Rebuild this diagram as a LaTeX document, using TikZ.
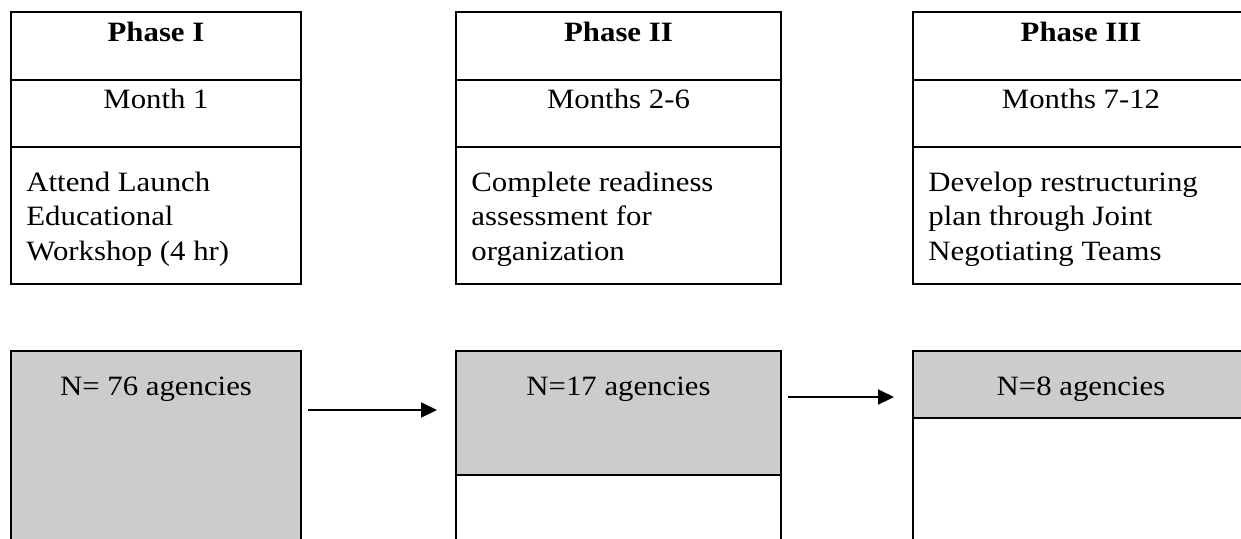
\documentclass[tikz,border=0pt]{standalone}
\usepackage{fontspec}
\setmainfont{Liberation Serif}[FakeStretch=1.1]
\usetikzlibrary{positioning,arrows.meta}
\definecolor{cellgray}{HTML}{CCCCCC}
\newcommand{\pxu}{0.5pt}
\tikzset{
  cell/.style={draw, line width=1pt, anchor=north west, inner sep=0pt, outer sep=0pt, minimum width=#1*\pxu},
  headrow/.style={cell=#1, minimum height=68*\pxu},
  monthrow/.style={cell=#1, minimum height=67*\pxu},
  taskrow/.style={cell=#1, minimum height=137*\pxu},
  countrow/.style={cell=#1, fill=cellgray},
  txt/.style={anchor=base, inner sep=0pt},
  tasktxt/.style={anchor=base west, align=left, inner sep=0pt},
  flow/.style={-{Triangle[length=8pt,width=7.5pt]}, line width=1pt, shorten <=3.5pt, shorten >=9.5pt}
}
\begin{document}
\begin{tikzpicture}[x=0.5pt, y=-0.5pt, font=\fontsize{14}{17.25}\selectfont]
  \useasboundingbox (0,0) rectangle (1241,538);
  \clip (0,0) rectangle (1241,538);
  % phase boxes
  \node[headrow=290] (p1head) at (11,12) {};
  \node[monthrow=290] (p1month) at (p1head.south west) {};
  \node[taskrow=290] (p1task) at (p1month.south west) {};
  \node[headrow=325] (p2head) at (456,12) {};
  \node[monthrow=325] (p2month) at (p2head.south west) {};
  \node[taskrow=325] (p2task) at (p2month.south west) {};
  \node[headrow=336] (p3head) at (913,12) {};
  \node[monthrow=336] (p3month) at (p3head.south west) {};
  \node[taskrow=336] (p3task) at (p3month.south west) {};
  \node[txt] at ([yshift=-14.5pt]p1head.north) {\textbf{Phase I}};
  \node[txt] at ([yshift=-14pt]p1month.north) {Month 1};
  \node[tasktxt] at ([xshift=7.5pt,yshift=-56.5pt]p1task.north west) {Attend Launch\\Educational\\Workshop (4 hr)};
  \node[txt] at ([yshift=-14.5pt]p2head.north) {\textbf{Phase II}};
  \node[txt] at ([yshift=-14pt]p2month.north) {Months 2-6};
  \node[tasktxt] at ([xshift=7.5pt,yshift=-56.5pt]p2task.north west) {Complete readiness\\assessment for\\organization};
  \node[txt] at ([yshift=-14.5pt]p3head.north) {\textbf{Phase III}};
  \node[txt] at ([yshift=-14pt]p3month.north) {Months 7-12};
  \node[tasktxt] at ([xshift=7.5pt,yshift=-56.5pt]p3task.north west) {Develop restructuring\\plan through Joint\\Negotiating Teams};
  % agency counts
  \node[countrow=290, minimum height=220*\pxu] (n1) at (11,351) {};
  \node[countrow=325, minimum height=124*\pxu] (n2) at (456,351) {};
  \node[cell=325, minimum height=100*\pxu] (n2rest) at (n2.south west) {};
  \node[countrow=336, minimum height=67*\pxu] (n3) at (913,351) {};
  \node[cell=336, minimum height=160*\pxu] (n3rest) at (n3.south west) {};
  \node[txt] at ([yshift=-22pt]n1.north) {N= 76 agencies};
  \node[txt] at ([yshift=-22pt]n2.north) {N=17 agencies};
  \node[txt] at ([yshift=-22pt]n3.north) {N=8 agencies};
  \draw[flow] (n1.east |- 0,410) -- (n2.west |- 0,410);
  \draw[flow] (n2.east |- 0,397) -- (n3.west |- 0,397);
\end{tikzpicture}
\end{document}
